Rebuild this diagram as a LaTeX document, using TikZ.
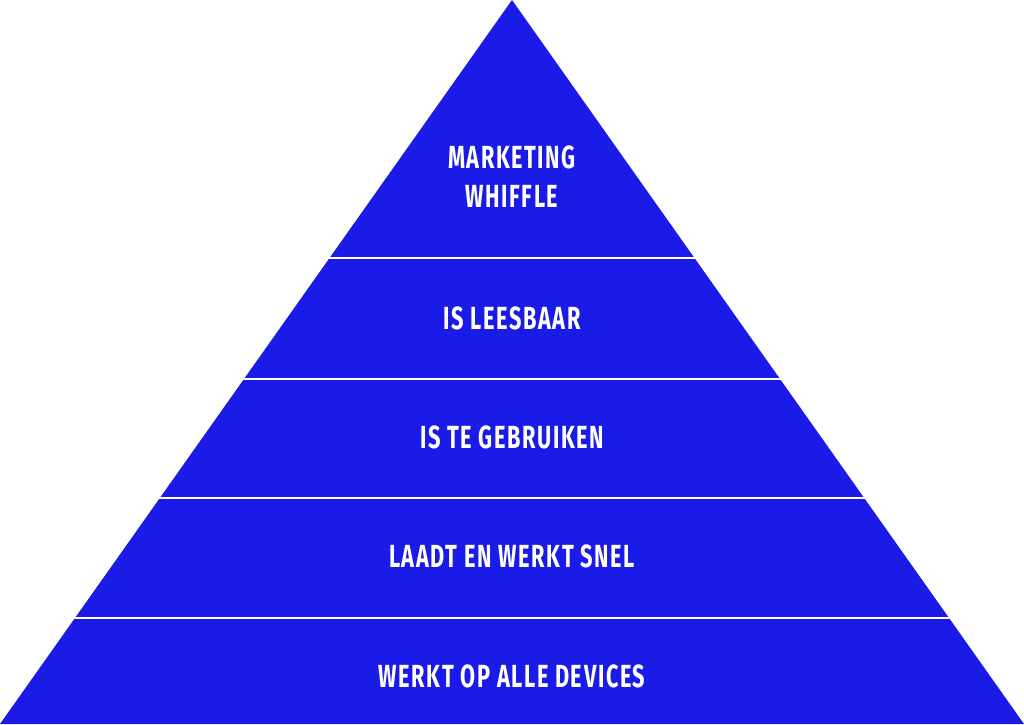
\documentclass[tikz,border=0pt]{standalone}
\usepackage{fontspec}
\setmainfont{Fira Sans}[FakeStretch=0.68,LetterSpace=5]
\definecolor{pyrblue}{RGB}{27,27,232}
\begin{document}
\begin{tikzpicture}[x=1pt,y=-1pt,
  lbl/.style={text=white,font=\fontsize{32}{39}\selectfont\bfseries,align=center,inner sep=0pt},
  divider/.style={draw=white,line width=2.5pt}]
\useasboundingbox (0,0) rectangle (1024,724);
\coordinate (apex) at (512,0);
\coordinate (bl) at (0,724);
\coordinate (br) at (1024,724);
\fill[pyrblue] (apex) -- (bl) -- (br) -- cycle;
\foreach \yy/\nm in {258/a,379/b,498/c,618/d}{
  \coordinate (\nm L) at ({512-\yy/724*512-2},\yy);
  \coordinate (\nm R) at ({512+\yy/724*512+2},\yy);
  \draw[divider] (\nm L) -- (\nm R);
}
\node[lbl] (t1) at (512,177) {MARKETING\\WHIFFLE};
\node[lbl] (t2) at (512,318) {IS LEESBAAR};
\node[lbl] (t3) at (512,437) {IS TE GEBRUIKEN};
\node[lbl] (t4) at (512,556) {LAADT EN WERKT SNEL};
\node[lbl] (t5) at (512,676) {WERKT OP ALLE DEVICES};
\end{tikzpicture}
\end{document}
